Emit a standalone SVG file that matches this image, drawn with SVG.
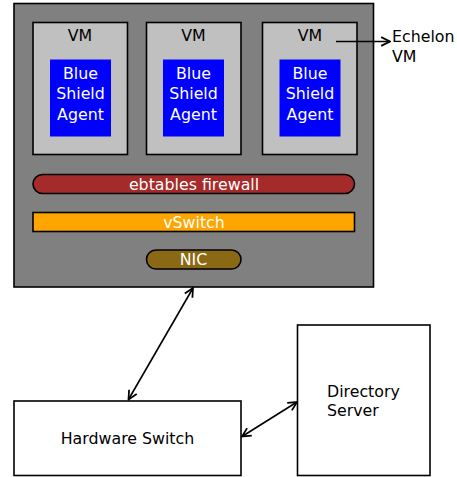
<svg xmlns="http://www.w3.org/2000/svg" width="457" height="477" viewBox="0 0 457 477">
<defs>
<marker id="arr" viewBox="0 0 10 10" refX="9" refY="5" markerWidth="11" markerHeight="11" markerUnits="userSpaceOnUse" orient="auto-start-reverse">
<path d="M1,1 L9,5 L1,9" fill="none" stroke="#000" stroke-width="1.6"/>
</marker>
<style>
text{font-family:"DejaVu Sans",sans-serif;font-size:15.8px}
.box{stroke:#000;stroke-width:1.6}
.vm{fill:#c0c0c0}
.agent{fill:#0000ff}
.w{fill:#fff}
.c{text-anchor:middle}
.con{fill:none;stroke:#000;stroke-width:1.6}
</style>
</defs>
<g id="host">
<rect class="box" x="14" y="3.5" width="359.5" height="283.5" fill="#808080"/>
</g>
<g id="vm1">
<rect class="box vm" x="33" y="22.5" width="94.5" height="132"/>
<text class="c" x="80" y="41">VM</text>
<rect class="agent" x="50" y="59.5" width="61" height="77"/>
<text class="c w" x="80.5" y="79">Blue</text>
<text class="c w" x="80.5" y="99">Shield</text>
<text class="c w" x="80.5" y="119.5">Agent</text>
</g>
<g id="vm2">
<rect class="box vm" x="146.5" y="22.5" width="94.5" height="132"/>
<text class="c" x="193.5" y="41">VM</text>
<rect class="agent" x="163" y="59.5" width="61" height="77"/>
<text class="c w" x="193.5" y="79">Blue</text>
<text class="c w" x="193.5" y="99">Shield</text>
<text class="c w" x="193.5" y="119.5">Agent</text>
</g>
<g id="vm3">
<rect class="box vm" x="262.5" y="22.5" width="94.5" height="132"/>
<text class="c" x="310" y="41">VM</text>
<rect class="agent" x="279.5" y="59.5" width="61" height="77"/>
<text class="c w" x="310" y="79">Blue</text>
<text class="c w" x="310" y="99">Shield</text>
<text class="c w" x="310" y="119.5">Agent</text>
</g>
<g id="firewall">
<rect class="box" x="33" y="174.5" width="321.5" height="19" rx="9.5" fill="#a52a2a"/>
<text class="c w" x="194" y="189.5">ebtables firewall</text>
</g>
<g id="vswitch">
<rect class="box" x="33" y="212.5" width="321.5" height="19" fill="#ffa500"/>
<text class="c w" x="194" y="227.5">vSwitch</text>
</g>
<g id="nic">
<rect class="box" x="146.5" y="250" width="94.5" height="19" rx="9.5" fill="#8b6914"/>
<text class="c w" x="193.5" y="265">NIC</text>
</g>
<g id="echelon">
<text x="392" y="42">Echelon</text>
<text x="392" y="62">VM</text>
</g>
<g id="hwswitch">
<rect class="box" x="14" y="401" width="227" height="74.5" fill="#fff"/>
<text class="c" x="127.5" y="443.5">Hardware Switch</text>
</g>
<g id="dirserver">
<rect class="box" x="297.5" y="325" width="132.5" height="150.5" fill="#fff"/>
<text x="327" y="396.5">Directory</text>
<text x="327" y="416">Server</text>
</g>
<g id="connectors">
<line class="con" x1="336" y1="41.5" x2="390" y2="41.5" marker-end="url(#arr)"/>
<line class="con" x1="128.5" y1="399.5" x2="193" y2="288" marker-start="url(#arr)" marker-end="url(#arr)"/>
<line class="con" x1="242" y1="436.5" x2="297" y2="402" marker-start="url(#arr)" marker-end="url(#arr)"/>
</g>
</svg>
